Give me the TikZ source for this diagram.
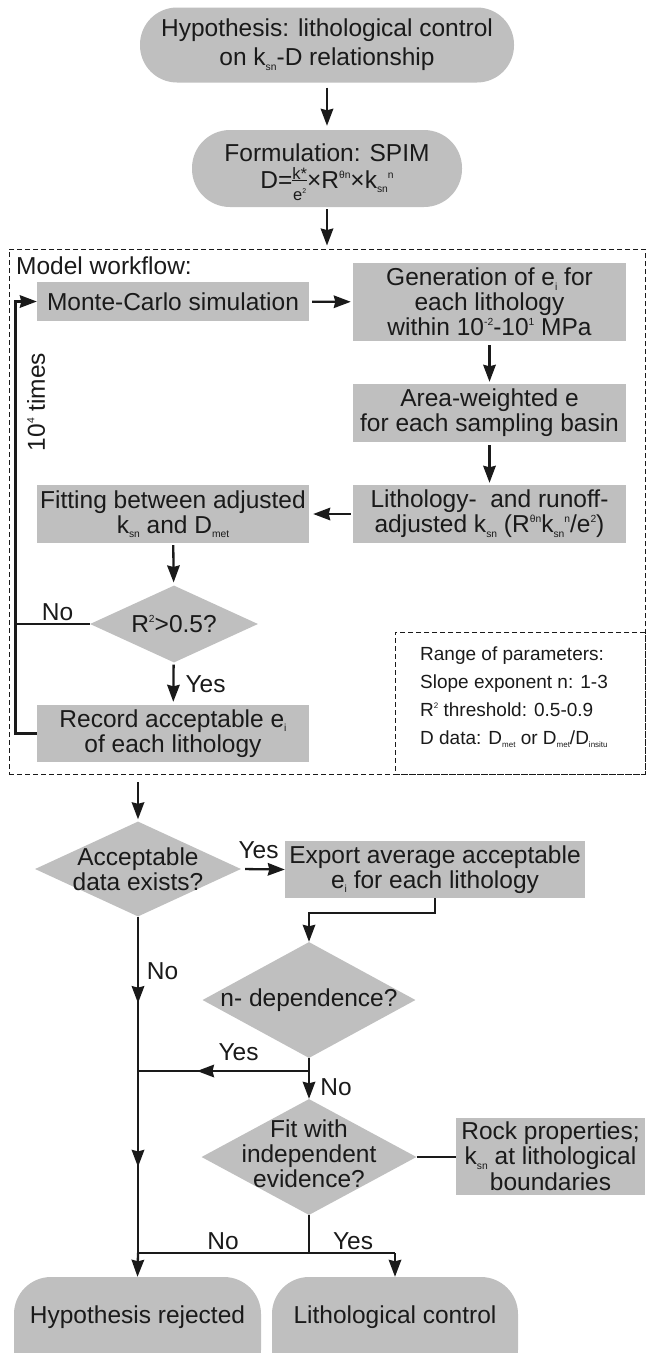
\documentclass[tikz,border=0pt]{standalone}
\usepackage{fontspec}
\setmainfont{Liberation Sans}
\usetikzlibrary{arrows.meta,shapes.geometric,decorations.markings}
\definecolor{boxgray}{RGB}{191,191,191}
\definecolor{ink}{RGB}{26,26,26}
\newcommand{\mysub}[1]{\raisebox{-0.18em}{\scalebox{0.42}{#1}}}
\newcommand{\mysup}[1]{\raisebox{0.42em}{\scalebox{0.42}{#1}}}
\newcommand{\mainfs}{\fontsize{24.5}{25}\selectfont}
\newcommand{\myfrac}[2]{\smash{\raisebox{-12pt}{\fontsize{16.5}{16.5}\selectfont\setlength{\arrayrulewidth}{1.3pt}\renewcommand{\arraystretch}{0}\begin{tabular}[b]{@{}c@{}}\rule[-0.5pt]{0pt}{12pt}#1\\\hline\rule{0pt}{19.5pt}#2\end{tabular}}}}
\begin{document}
\begin{tikzpicture}[x=1pt,y=-1pt,
  every node/.style={font=\mainfs, text=ink},
  box/.style={rectangle, fill=boxgray, inner sep=0pt, align=center},
  stad/.style={rectangle, fill=boxgray, inner sep=0pt, align=center},
  dia/.style={diamond, fill=boxgray, inner sep=0pt},
  arr/.style={draw=ink, line width=2.3pt, -{Stealth[length=17pt,width=12.5pt,inset=1.5pt]}, shorten <=3pt, shorten >=3pt},
  ln/.style={draw=ink, line width=2.3pt},
  dsh/.style={draw=ink, line width=0.9pt, dash pattern=on 5pt off 3pt},
  lbl/.style={inner sep=0pt, anchor=base},
  ptext/.style={inner sep=0pt, anchor=base west, font=\fontsize{19}{19}\selectfont}
]
\useasboundingbox (0,0) rectangle (646,1353);

% top part
\node[stad, rounded corners=37pt, minimum width=374pt, minimum height=75pt, font=\fontsize{24.5}{29}\selectfont] (hyp) at (327,45) {Hypothesis: lithological control\\on k\mysub{sn}-D relationship};
\node[stad, rounded corners=38pt, minimum width=270pt, minimum height=77pt] (form) at (327,168.5) {Formulation: SPIM\\[1.5pt]D=\myfrac{k*}{e\mysup{2}}×R\mysup{θn}×k\mysub{sn}\mysup{n}};
\draw[arr, shorten <=5pt, shorten >=4pt] (hyp) -- (form);

% workflow container
\node[dsh, minimum width=636pt, minimum height=525pt, inner sep=0pt] (wf) at (327,511.5) {};
\draw[arr, shorten <=2pt, shorten >=3pt] (form) -- (wf.north);
\node[inner sep=0pt, anchor=base west] (wftitle) at (16,274) {Model workflow:};

\node[box, minimum width=272pt, minimum height=39pt] (mc) at (173,301.5) {Monte-Carlo simulation};
\node[box, minimum width=273pt, minimum height=78pt] (gen) at (489.5,302) {Generation of e\mysub{i} for\\each lithology\\within 10\mysup{-2}-10\mysup{1} MPa};
\node[box, minimum width=273pt, minimum height=58pt] (area) at (489.5,413) {Area-weighted e\\for each sampling basin};
\node[box, minimum width=273pt, minimum height=58pt] (lith) at (489.5,514) {Lithology-\ \ and runoff-\\adjusted k\mysub{sn} (R\mysup{θn}k\mysub{sn}\mysup{n}/e\mysup{2})};
\node[box, minimum width=272pt, minimum height=58pt] (fit) at (173,514) {Fitting between adjusted\\k\mysub{sn} and D\mysub{met}};
\node[dia, minimum width=168pt, minimum height=77pt, label={[inner sep=0pt]center:R\mysup{2}>0.5?}] (r2) at (174,624) {};
\node[box, minimum width=272pt, minimum height=57pt] (rec) at (173,733.5) {Record acceptable e\mysub{i}\\of each lithology};

\draw[arr, shorten <=3pt, shorten >=2pt] (mc) -- (gen);
\draw[arr, shorten <=4pt, shorten >=2pt] (gen) -- (area);
\draw[arr, shorten <=3pt, shorten >=2pt] (area) -- (lith);
\draw[arr, shorten <=2pt, shorten >=4pt] (lith) -- (fit);
\draw[arr, shorten <=2pt, shorten >=3pt] (fit) -- (r2);
\draw[arr, shorten <=2pt, shorten >=3pt] (r2) -- (rec);

\coordinate (lp) at (15.5,733.5);
\draw[arr, shorten <=0pt, shorten >=0pt] (rec.west) -- (rec.west -| lp) |- (mc.west);
\draw[ln] (r2.west) -- (r2.west -| lp);
\node[lbl] (no1) at (57.5,620.5) {No};
\node[lbl] (yes1) at (205.5,692) {Yes};
\node[inner sep=0pt, rotate=90] (times) at (36,402) {10\mysup{4} times};

% parameter box
\node[dsh, minimum width=250pt, minimum height=142pt, inner sep=0pt] (par) at (520,703) {};
\node[ptext] (p1) at (420,660) {Range of parameters:};
\node[ptext] (p2) at (420,688.5) {Slope exponent n: 1-3};
\node[ptext] (p3) at (420,716) {R\mysup{2} threshold: 0.5-0.9};
\node[ptext] (p4) at (420,744) {D data: D\mysub{met} or D\mysub{met}/D\mysub{insitu}};

% lower part
\node[dia, minimum width=206pt, minimum height=95pt, label={[inner sep=0pt, align=center]center:Acceptable\\data exists?}] (acc) at (138,869) {};
\draw[arr, shorten <=8pt, shorten >=2pt] (wf.south -| acc.north) -- (acc.north);
\node[box, minimum width=300pt, minimum height=57pt] (exp) at (435,869.5) {Export average acceptable\\e\mysub{i} for each lithology};
\draw[arr, shorten <=4pt, shorten >=0pt] (acc.east) -- (exp.west);
\node[lbl] (yes2) at (258.5,858) {Yes};

\node[dia, minimum width=213pt, minimum height=116pt, label={[inner sep=0pt]center:n- dependence?}] (ndep) at (309,1000) {};
\draw[arr, shorten <=0pt, shorten >=0pt] (exp.south) -- ++(0,15) -| (ndep.north);

\node[dia, minimum width=215pt, minimum height=116pt, label={[inner sep=0pt, align=center, yshift=3pt]center:Fit with\\independent\\evidence?}] (fitd) at (309,1157) {};
\node[box, minimum width=189pt, minimum height=77pt, font=\fontsize{24.5}{25.5}\selectfont] (rock) at (550.5,1156) {Rock properties;\\k\mysub{sn} at lithological\\boundaries};
\draw[ln] (fitd.east) -- (fitd.east -| rock.west);

\coordinate (jy) at (138,1071);
\coordinate (jb) at (138,1253);
\coordinate (kb) at (309,1253);
\coordinate (cb) at (395,1253);

\draw[arr, shorten <=0pt, shorten >=0pt] (ndep.south) -- (fitd.north);
\draw[ln, postaction={decorate}, decoration={markings, mark=at position 0.655 with {\arrow{Stealth[length=17pt,width=12.5pt,inset=1.5pt]}}}] (ndep.south |- jy) -- (jy);
\draw[ln, postaction={decorate}, decoration={markings, mark=at position 0.257 with {\arrow{Stealth[length=17pt,width=12.5pt,inset=1.5pt]}}, mark=at position 0.744 with {\arrow{Stealth[length=17pt,width=12.5pt,inset=1.5pt]}}}] (acc.south) -- (jb);
\node[lbl] (no2) at (162.5,979.5) {No};
\node[lbl] (yes3) at (238.5,1060.5) {Yes};
\node[lbl] (no3) at (336,1095.5) {No};

\draw[ln] (fitd.south) -- (kb);
\draw[ln] (jb) -- (cb);
\node[lbl] (no4) at (223,1249) {No};
\node[lbl] (yes4) at (353,1249) {Yes};

\node[stad, rounded corners=37pt, minimum width=247pt, minimum height=110pt, text height=18pt, text depth=36pt] (rej) at (137.5,1332) {Hypothesis rejected};
\node[stad, rounded corners=37pt, minimum width=246pt, minimum height=110pt, text height=18pt, text depth=36pt] (ctrl) at (395,1332) {Lithological control};
\draw[arr, shorten <=0pt, shorten >=0pt] (jb) -- (rej.north);
\draw[arr, shorten <=0pt, shorten >=0pt] (cb) -- (ctrl.north);
\end{tikzpicture}
\end{document}
